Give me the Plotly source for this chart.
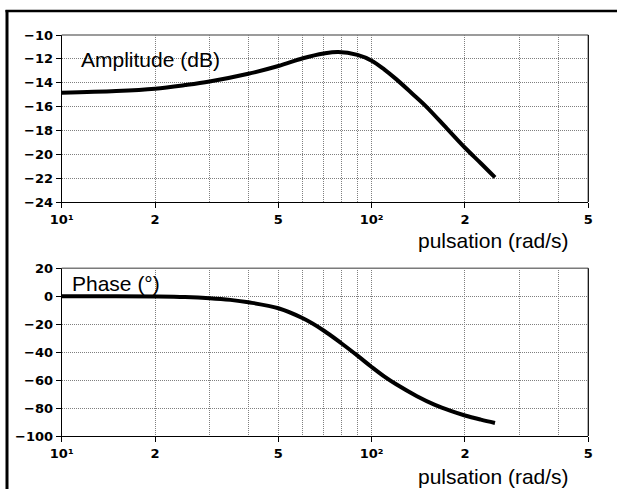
import plotly.graph_objects as go

# ---- data ----
w_amp = [10, 15, 20, 25, 30, 40, 50, 60, 70, 78, 90, 100, 110, 120, 135, 150, 175, 200, 225, 250]
amp_db = [-14.85, -14.7, -14.5, -14.2, -13.9, -13.25, -12.6, -11.95, -11.55, -11.42,
          -11.67, -12.15, -12.9, -13.7, -14.9, -16.0, -17.85, -19.45, -20.75, -21.94]

w_ph = [10, 15, 20, 25, 30, 35, 40, 50, 60, 70, 80, 90, 100, 110, 120, 140, 160, 180, 200, 225, 250]
phase_deg = [0, 0, -0.2, -0.6, -1.4, -2.6, -4.3, -8.6, -15.8, -24.5, -33.8, -42.5,
             -50.6, -57.5, -63.0, -71.5, -77.7, -82.0, -85.3, -88.3, -90.7]

x_tickvals = [10, 20, 50, 100, 200, 500]
x_ticktext = ["10¹", "2", "5", "10²", "2", "5"]
x_minor = [30, 40, 60, 70, 80, 90, 300, 400]

amp_ticks = [-24, -22, -20, -18, -16, -14, -12, -10]
phase_ticks = [-100, -80, -60, -40, -20, 0, 20]

W, H = 617, 489

fig = go.Figure()
fig.add_trace(go.Scatter(x=w_amp, y=amp_db, mode="lines", xaxis="x", yaxis="y",
                         line=dict(color="black", width=4, shape="spline", smoothing=1.0),
                         showlegend=False, hoverinfo="skip"))
fig.add_trace(go.Scatter(x=w_ph, y=phase_deg, mode="lines", xaxis="x2", yaxis="y2",
                         line=dict(color="black", width=4, shape="spline", smoothing=1.0),
                         showlegend=False, hoverinfo="skip"))

tickfont = dict(family="DejaVu Sans", size=13, color="black", weight="bold")
GRIDC = "#7f7f7f"
GRIDDASH = "1px,1px"
grid = dict(showgrid=True, gridcolor=GRIDC, griddash=GRIDDASH, gridwidth=1)

xdom = [61.7 / W, 588.3 / W]

def xaxis_cfg(anchor):
    return dict(type="log", range=[1, 2.69897], domain=xdom, anchor=anchor,
                tickmode="array", tickvals=x_tickvals, ticktext=x_ticktext,
                ticks="outside", ticklen=5, tickcolor="black", tickwidth=1,
                showline=True, linecolor="black", linewidth=1,
                tickfont=tickfont, ticklabelstandoff=0,
                minor=dict(tickvals=x_minor, ticks="", showgrid=True,
                           gridcolor=GRIDC, griddash=GRIDDASH, gridwidth=1),
                zeroline=False, automargin=False, **grid)

def yaxis_cfg(anchor, rng, tv, dom):
    return dict(range=rng, domain=dom, anchor=anchor, tickmode="array", tickvals=tv,
                ticks="outside", ticklen=5, tickcolor="black", tickwidth=1,
                showline=True, linecolor="black", linewidth=1,
                tickfont=tickfont, zeroline=False, automargin=False, **grid)

fig.update_layout(
    width=W, height=H,
    margin=dict(l=0, r=0, t=0, b=0),
    paper_bgcolor="white", plot_bgcolor="white",
    xaxis=xaxis_cfg("y"),
    yaxis=yaxis_cfg("x", [-24, -10], amp_ticks, [1 - 202 / H, 1 - 35 / H]),
    xaxis2=xaxis_cfg("y2"),
    yaxis2=yaxis_cfg("x2", [-100, 20], phase_ticks, [1 - 436 / H, 1 - 268.3 / H]),
)

def px_x(v):
    return v / W

def px_y(v):
    return 1 - v / H

shapes = []
# white patches behind the in-plot labels (between gridlines and traces)
shapes.append(dict(type="rect", xref="paper", yref="paper", layer="between",
                   x0=px_x(78), x1=px_x(220), y0=px_y(47), y1=px_y(71),
                   fillcolor="white", line=dict(width=0)))
shapes.append(dict(type="rect", xref="paper", yref="paper", layer="between",
                   x0=px_x(69), x1=px_x(160), y0=px_y(270), y1=px_y(294.5),
                   fillcolor="white", line=dict(width=0)))
for xr, yr in (("x domain", "y domain"), ("x2 domain", "y2 domain")):
    shapes.append(dict(type="line", xref=xr, yref=yr, x0=0, x1=1, y0=1, y1=1,
                       line=dict(color="#7a7a7a", width=1.5), layer="above"))
    shapes.append(dict(type="line", xref=xr, yref=yr, x0=1, x1=1, y0=0, y1=1,
                       line=dict(color="black", width=1.2), layer="above"))
# outer frame (left and top only)
shapes.append(dict(type="line", xref="paper", yref="paper", x0=px_x(7), x1=px_x(7),
                   y0=0, y1=px_y(10), line=dict(color="black", width=3)))
shapes.append(dict(type="line", xref="paper", yref="paper", x0=px_x(5.5), x1=1,
                   y0=px_y(11), y1=px_y(11), line=dict(color="black", width=2.5)))
fig.update_layout(shapes=shapes)

lblfont = dict(family="Liberation Sans", size=21, color="black")
fig.add_annotation(text="Amplitude (dB)", xref="paper", yref="paper",
                   x=px_x(79), y=px_y(59), xanchor="left", yanchor="middle",
                   showarrow=False, font=lblfont)
fig.add_annotation(text="Phase (°)", xref="paper", yref="paper",
                   x=px_x(70), y=px_y(283), xanchor="left", yanchor="middle",
                   showarrow=False, font=lblfont)
fig.add_annotation(text="pulsation (rad/s)", xref="paper", yref="paper",
                   x=px_x(571), y=px_y(240), xanchor="right", yanchor="middle",
                   showarrow=False, font=lblfont)
fig.add_annotation(text="pulsation (rad/s)", xref="paper", yref="paper",
                   x=px_x(571), y=px_y(476), xanchor="right", yanchor="middle",
                   showarrow=False, font=lblfont)

fig.write_html("out.html")
